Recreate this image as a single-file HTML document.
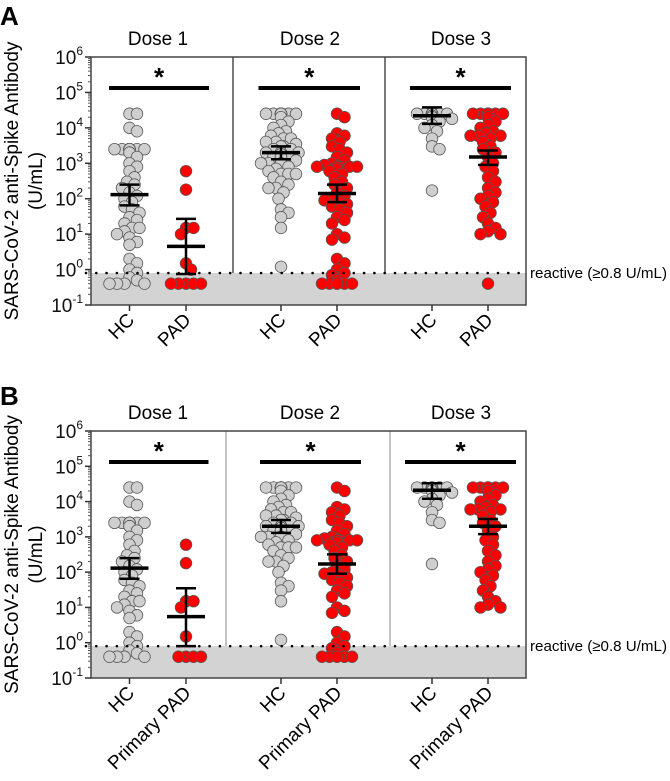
<!DOCTYPE html>
<html><head><meta charset="utf-8"><style>
body{margin:0;background:#fff;}
svg{display:block;font-family:"Liberation Sans",Arial,sans-serif;}
</style></head><body>
<svg id="fig" width="670" height="781" viewBox="0 0 670 781" xmlns="http://www.w3.org/2000/svg">
<text x="0" y="25" font-size="26" font-weight="bold">A</text>
<text x="0" y="405" font-size="26" font-weight="bold">B</text>
</svg>
<script>
// ---- data (U/mL) ----
const groupsA = ["HC","PAD","HC","PAD","HC","PAD"];
const groupsB = ["HC","Primary PAD","HC","Primary PAD","HC","Primary PAD"];
const doses = ["Dose 1","Dose 2","Dose 3"];
const yTicks = [-1,0,1,2,3,4,5,6];
const hc1 = [25000,25000,10000,8000,2500,2500,2500,2500,2500,2500,2500,2500,2500,2500,2000,2000,1500,1000,800,600,400,300,250,200,150,120,100,80,60,50,40,30,25,20,15,15,12,10,8,6,5,2,1.5,1,0.8,0.6,0.5,0.4,0.4,0.4,0.4];
const padA1 = [600,180,15,15,10,1.5,1,0.4,0.4,0.4,0.4,0.4];
const hc2 = [25000,25000,25000,25000,25000,25000,25000,25000,25000,25000,25000,25000,20000,15000,12000,10000,8000,7000,6000,5000,5000,4000,4000,3500,3000,3000,2500,2500,2000,2000,2000,2000,2000,1800,1500,1500,1500,1500,1200,1000,1000,1000,1000,800,700,600,500,500,500,400,300,250,200,200,150,100,50,40,30,15,1.2];
const padA2 = [25000,20000,7000,6000,5000,4000,3000,2500,2000,1500,1200,1000,900,800,800,800,800,800,700,600,500,400,300,250,200,150,120,100,90,80,70,60,50,40,30,25,20,10,8,7,2,1.5,1,0.8,0.7,0.5,0.4,0.4,0.4,0.4,0.4,0.4];
const hc3 = [25000,25000,25000,25000,25000,25000,25000,25000,22000,20000,18000,15000,12000,10000,8000,5000,3000,2500,170];
const padA3 = [25000,25000,25000,25000,25000,25000,25000,25000,25000,25000,20000,15000,12000,10000,8000,7000,6000,6000,6000,5000,4000,3000,2500,2000,1500,1000,800,600,400,300,200,150,120,100,80,60,40,30,20,15,12,10,10,0.4];
const padB1 = [600,180,15,15,10,1.5,0.4,0.4,0.4,0.4];
const padB2 = padA2.slice(0,padA2.length-1);
const padB3 = padA3.slice(0,padA3.length-1);
const meansA = [130,4.5,2000,140,22000,1500];
const lowA = [65,0.75,1300,80,13000,900];
const highA = [250,27,3000,250,38000,2300];
const meansB = [130,5.5,2000,170,21000,2000];
const lowB = [65,0.8,1300,90,12000,1200];
const highB = [250,35,3000,320,33000,3200];
const seriesA = [hc1,padA1,hc2,padA2,hc3,padA3];
const seriesB = [hc1,padB1,hc2,padB2,hc3,padB3];

const NS="http://www.w3.org/2000/svg";
const svg=document.getElementById('fig');
function el(tag,attrs,parent){const e=document.createElementNS(NS,tag);for(const k in attrs)e.setAttribute(k,attrs[k]);(parent||svg).appendChild(e);return e;}
const cx=[129.5,186,281,337,432,488];
const X0=91,X1=526;

function panel(cfg){
  const {top,bot,cats,series,means,low,high,divs,divColor,divW,sig,titleY,pfx}=cfg;
  const dec=(bot-top)/7;
  const y=v=>bot-(Math.log10(v)+1)*dec;
  const g=el('g',{});
  
  
  const shade=el('rect',{x:X0,y:y(0.8),width:X1-X0,height:bot-y(0.8),fill:'#d3d3d3'},g);
  
  
  divs.forEach((dx,i)=>{const l=el('line',{x1:dx,x2:dx,y1:top,y2:y(0.8),stroke:divColor,'stroke-width':divW},g);
    
    });
  const fr=el('rect',{x:X0,y:top,width:X1-X0,height:bot-top,fill:'none',stroke:'#444','stroke-width':1.5},g);
  
  
  yTicks.forEach(t=>{
    const ty=y(Math.pow(10,t));
    el('line',{x1:X0-6,x2:X0,y1:ty,y2:ty,stroke:'#333','stroke-width':1.5},g);
    const tx=el('text',{x:X0-8,y:ty+7,'font-size':19,'text-anchor':'end',fill:'#111'},g);
    
    
    const ts=el('tspan',{},tx);ts.textContent='10';
    const sp=el('tspan',{'font-size':12,dy:-9},tx);sp.textContent=String(t);
    if(t<6){for(let m=2;m<10;m++){const my=y(m*Math.pow(10,t));el('line',{x1:X0-3,x2:X0,y1:my,y2:my,stroke:'#555','stroke-width':1},g);}}
  });
  const ty=(top+bot)/2;
  const yt=el('text',{x:0,y:0,'font-size':19,'text-anchor':'middle',transform:`translate(18,${ty}) rotate(-90)`},g);
  yt.textContent='SARS-CoV-2 anti-Spike Antibody';
  
  
  const yt2=el('text',{x:0,y:0,'font-size':19,'text-anchor':'middle',transform:`translate(42,${ty}) rotate(-90)`},g);
  yt2.textContent='(U/mL)';
  
  
  [158,310,461].forEach((tx,i)=>{const t=el('text',{x:tx,y:titleY,'font-size':19,'text-anchor':'middle'},g);t.textContent=doses[i];
    
    });
  sig.forEach(s=>{const b=el('line',{x1:s[0],x2:s[1],y1:top+31,y2:top+31,stroke:'#000','stroke-width':4},g);
    
    
    const st=el('text',{x:(s[0]+s[1])/2,y:top+29,'font-size':26,'font-weight':'bold','text-anchor':'middle'},g);st.textContent='*';
    
    });
  cats.forEach((c,i)=>{
    el('line',{x1:cx[i],x2:cx[i],y1:bot,y2:bot+6,stroke:'#333','stroke-width':1.5},g);
    const t=el('text',{x:0,y:0,'font-size':19,'text-anchor':'end',transform:`translate(${cx[i]+6},${bot+16}) rotate(-45)`},g);
    t.textContent=c;
    
    
  });
  series.forEach((vals,i)=>{
    const col=(i%2===0)?'#cfcfcf':'#ff0000';
    const placed=[];
    const sorted=vals.slice().sort((a,b)=>b-a);
    sorted.forEach(v=>{
      const py=y(v);let best=0;
      for(let k=0;k<60;k++){
        const off=(k%2?1:-1)*Math.ceil(k/2)*2.5;
        if(Math.abs(off)>20){best=0;break;}
        if(placed.every(p=>Math.hypot(p[0]-off,p[1]-py)>=7)){best=off;break;}
      }
      placed.push([best,py]);
      const c=el('circle',{cx:cx[i]+best,cy:py,r:5.8,fill:col,stroke:'#555','stroke-width':0.8},g);
      
      
    });
  });
  means.forEach((m,i)=>{
    const mb=el('line',{x1:cx[i]-19,x2:cx[i]+19,y1:y(m),y2:y(m),stroke:'#000','stroke-width':3.5},g);
    
    
    el('line',{x1:cx[i],x2:cx[i],y1:y(low[i]),y2:y(high[i]),stroke:'#000','stroke-width':2.5},g);
    [low[i],high[i]].forEach(v=>{const cp=el('line',{x1:cx[i]-10,x2:cx[i]+10,y1:y(v),y2:y(v),stroke:'#000','stroke-width':2.5},g);
      
      });
  });
  const th=el('line',{x1:X0-5,x2:X1-2,y1:y(0.8),y2:y(0.8),stroke:'#000','stroke-width':2.6,'stroke-dasharray':'0 10.3','stroke-linecap':'round'},g);
  
  
  const tt=el('text',{x:530,y:y(0.8)+5,'font-size':15,textLength:137,lengthAdjust:'spacingAndGlyphs'},g);
  tt.textContent='reactive (≥0.8 U/mL)';
  
  
}
panel({top:57,bot:305,cats:groupsA,series:seriesA,means:meansA,low:lowA,high:highA,divs:[233,385],divColor:'#333',divW:1.3,
  sig:[[109,209],[258.5,360],[410,511]],titleY:45,pfx:'a'});
panel({top:431,bot:678,cats:groupsB,series:seriesB,means:meansB,low:lowB,high:highB,divs:[226,390],divColor:'#888',divW:1,
  sig:[[109,208.5],[260,361],[405,516]],titleY:419,pfx:'b'});
</script>
</body></html>
